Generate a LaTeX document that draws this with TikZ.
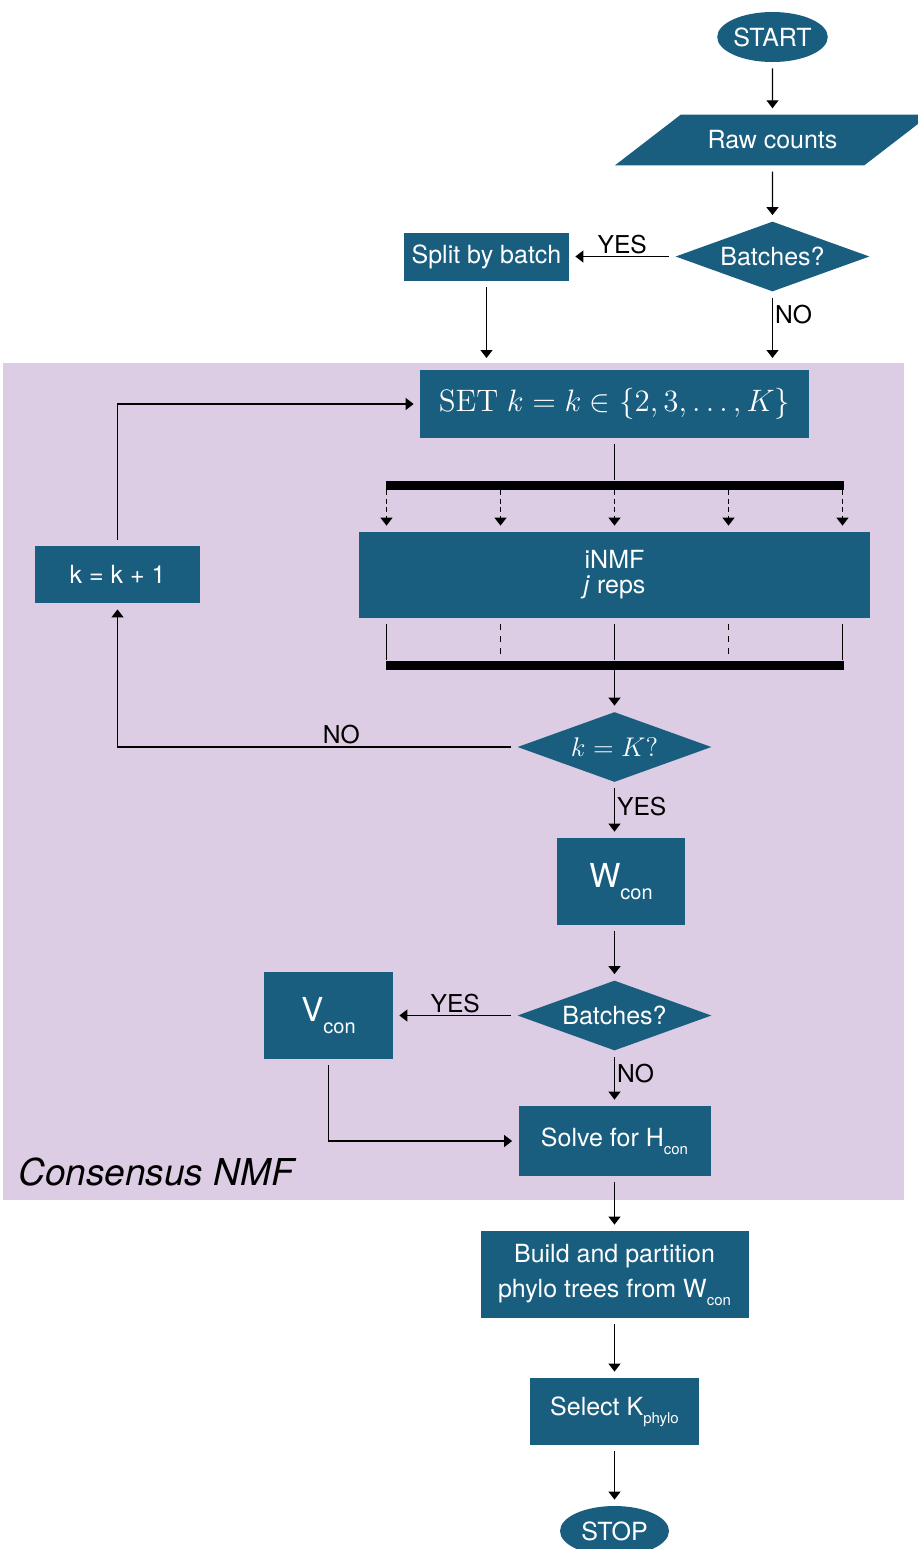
\documentclass[tikz,border=0pt]{standalone}
\usepackage{fix-cm}
\usepackage[no-math]{fontspec}
\setmainfont{TeX Gyre Heros}
\usetikzlibrary{arrows.meta,shapes.geometric}
\definecolor{deepblue}{HTML}{1A5E7F}
\definecolor{lilac}{HTML}{DCCCE4}
\newcommand{\bigsub}[2]{{\fontsize{16.5}{18}\selectfont #1}\raisebox{-6pt}{\fontsize{10}{12}\selectfont #2}}
\newcommand{\lowsub}[1]{\raisebox{-4pt}{\fontsize{7.5}{8}\selectfont #1}}
\tikzset{blk/.style={fill=deepblue,text=white,inner sep=0pt,align=center,font=\fontsize{12.5}{12.5}\selectfont},
 term/.style={blk,ellipse},
 dec/.style={blk,diamond,aspect=2.77,minimum width=97pt,minimum height=35pt},
 io/.style={blk,trapezium,trapezium left angle=37.6,trapezium right angle=142.4,trapezium stretches body,
 inner ysep=8pt,minimum width=157.5pt,minimum height=25pt},
 arr/.style={-{Triangle[length=4pt,width=6pt]},line width=0.6pt,shorten >=3pt,shorten <=3pt},
 lbl/.style={font=\fontsize{12.3}{13}\selectfont,inner sep=1pt},
 bar/.style={fill=black,inner sep=0pt,minimum width=229pt,minimum height=4.5pt}}

\begin{document}
\begin{tikzpicture}[x=0.5pt,y=-0.5pt]
\useasboundingbox (0,0) rectangle (917,1549);
% consensus NMF region
\fill[lilac] (3,363) rectangle (904,1200);
\node[anchor=base west,inner sep=0pt,font=\fontsize{18.5}{20}\selectfont\itshape] (cnmf) at (18,1185) {Consensus NMF};
% input part
\node[term,minimum width=55pt,minimum height=25pt] (start) at (772.5,37) {START};
\node[io] (raw) at (772.5,140) {Raw counts};
\node[dec] (bat1) at (772.5,256.5) {Batches?};
\node[blk,minimum width=82.5pt,minimum height=24pt] (split) at (486.5,256.5) {Split by batch};
\coordinate (inL) at (486.5,364);
\coordinate (inR) at (772.5,364);
% k loop
\node[blk,minimum width=194.5pt,minimum height=34pt,font=\fontsize{15.5}{16}\selectfont] (set) at (614.5,404) {$\mathrm{SET}\ k = k \in \{2,3,\ldots,K\}$};
\node[bar] (barT) at (614.5,485) {};
\node[blk,minimum width=255.5pt,minimum height=43pt] (inmf) at (614.5,575) {iNMF\\\textit{j} reps};
\node[bar] (barB) at (614.5,665) {};
\node[blk,minimum width=82.5pt,minimum height=28.5pt] (kinc) at (117.5,574.5) {k = k + 1};
\node[dec,font=\fontsize{13.5}{14}\selectfont] (kK) at (614.5,747) {$k = K?$};
\node[blk,minimum width=64pt,minimum height=43.5pt] (wcon) at (621,881.5) {\bigsub{W}{con}};
\node[dec] (bat2) at (614.5,1015.5) {Batches?};
\node[blk,minimum width=64.5pt,minimum height=43.5pt] (vcon) at (328.5,1015.5) {\bigsub{V}{con}};
\node[blk,minimum width=96pt,minimum height=35pt] (solve) at (614.5,1141) {Solve for H\lowsub{con}};
% after consensus
\node[blk,minimum width=134pt,minimum height=43.5pt] (build) at (614.5,1274.5) {Build and partition\\[5pt]phylo trees from W\lowsub{con}};
\node[blk,minimum width=84.5pt,minimum height=33.5pt] (select) at (614.5,1411.5) {Select K\lowsub{phylo}};
\node[term,minimum width=54.5pt,minimum height=25pt] (stop) at (614.5,1531) {STOP};

\draw[arr] (start) -- (raw);
\draw[arr] (raw) -- (bat1);
\draw[arr] (bat1) -- node[lbl,above]{YES} (split);
\draw[arr] (split) -- (inL);
\draw[arr] (bat1) -- node[lbl,right,pos=0.32]{NO} (inR);
\draw[line width=0.6pt,shorten <=3pt] (set) -- (barT);
\foreach \d/\s in {-228/solid,-114/dashed,0/solid,114/dashed,228/solid}{
 \path (barT.south) ++(\d,0) coordinate (t) (barB.north) ++(\d,0) coordinate (b);
 \draw[arr,\s,shorten <=0pt,dash pattern=on 2.5pt off 1.8pt] (t) -- (t |- inmf.north);
 \draw[line width=0.6pt,\s,shorten <=3pt] (b |- inmf.south) -- (b);
}
\draw[arr,shorten <=0pt] (barB) -- (kK);
\draw[arr] (kK.west) -| node[lbl,above,pos=0.22]{NO} (kinc.south);
\draw[arr] (kinc.north) |- (set.west);
\draw[arr] (kK) -- node[lbl,right,pos=0.43]{YES} (kK.south |- wcon.north);
\draw[arr] (wcon.south -| bat2.north) -- (bat2);
\draw[arr] (bat2) -- node[lbl,above]{YES} (vcon);
\draw[arr] (bat2) -- node[lbl,right,pos=0.41]{NO} (solve);
\draw[arr] (vcon.south) |- (solve.west);
\draw[arr] (solve) -- (build);
\draw[arr] (build) -- (select);
\draw[arr] (select) -- (stop);
\end{tikzpicture}
\end{document}
